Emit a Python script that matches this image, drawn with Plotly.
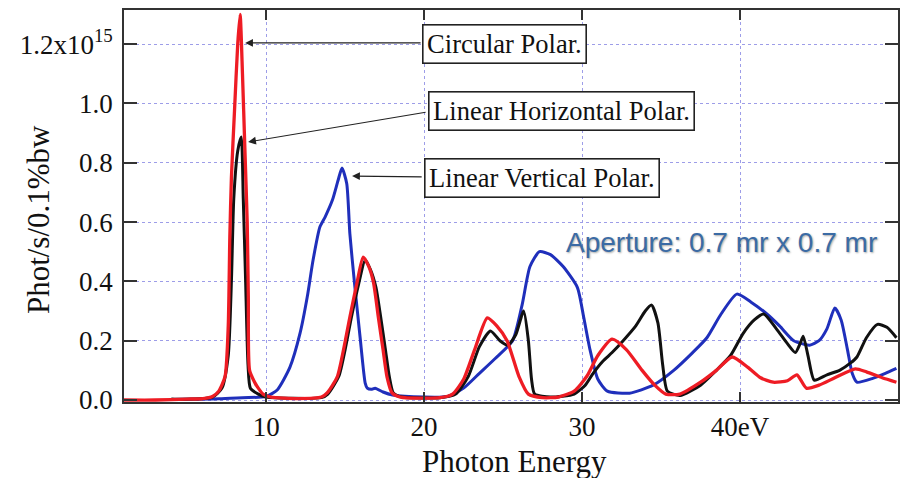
import plotly.graph_objects as go

# ---------------- data (photon energy in eV, flux in 1e15 phot/s/0.1%bw) ----------------
red_x = [1.0, 3.0, 5.0, 6.0, 6.6, 7.0, 7.4, 7.6, 7.7, 7.8, 8.0, 8.2, 8.35, 8.5, 8.65, 8.8, 8.87, 8.95,
         9.3, 9.5, 9.8, 10.3, 12.0, 13.5, 13.86, 14.5, 14.9, 15.3, 15.75, 16.14, 16.5, 16.8, 17.1,
         17.4, 17.65, 17.97, 18.5, 21.0, 21.8, 22.5, 23.2, 24.0, 24.6, 25.25, 26.0, 26.6, 27.5, 28.5,
         29.5, 30.3, 31.0, 31.9, 32.8, 33.8, 34.6, 35.3, 36.2, 37.5, 38.5, 39.5, 40.5, 41.3, 42.1,
         43.0, 43.6, 44.2, 45.0, 46.0, 47.3, 48.0, 49.0, 49.9]
red_y = [0.0, 0.0, 0.003, 0.005, 0.012, 0.03, 0.08, 0.25, 0.55, 0.75, 0.98, 1.20, 1.30, 1.10, 0.85,
         0.60, 0.35, 0.10, 0.057, 0.04, 0.02, 0.01, 0.005, 0.01, 0.024, 0.078, 0.17, 0.28, 0.395,
         0.482, 0.45, 0.395, 0.28, 0.17, 0.078, 0.024, 0.01, 0.008, 0.02, 0.07, 0.17, 0.277, 0.25,
         0.20, 0.08, 0.02, 0.008, 0.01, 0.03, 0.08, 0.15, 0.205, 0.17, 0.10, 0.05, 0.02, 0.02, 0.06,
         0.10, 0.145, 0.11, 0.075, 0.06, 0.065, 0.085, 0.04, 0.05, 0.075, 0.105, 0.095, 0.075, 0.06]

black_x = [4.0, 6.6, 7.2, 7.6, 7.8, 7.95, 8.2, 8.42, 8.55, 8.7, 8.85, 9.0, 9.5, 10.0, 13.5, 13.9,
           14.6, 15.0, 15.4, 15.85, 16.27, 16.6, 16.95, 17.25, 17.55, 17.8, 18.05, 18.6, 21.0, 22.0,
           22.8, 23.5, 24.2, 24.8, 25.3, 25.8, 26.3, 26.6, 26.8, 27.0, 28.0, 29.5, 30.2, 30.7, 31.3,
           31.9, 32.6, 33.4, 34.0, 34.4, 34.8, 35.1, 35.4, 36.2, 37.5, 38.5, 39.4, 40.2, 40.9, 41.5,
           42.3, 43.0, 43.5, 43.8, 44.0, 44.3, 44.7, 45.5, 46.3, 47.0, 47.4, 48.0, 48.7, 49.3, 49.9]
black_y = [0.003, 0.01, 0.04, 0.15, 0.40, 0.68, 0.84, 0.887, 0.68, 0.40, 0.12, 0.04, 0.02, 0.01,
           0.008, 0.02, 0.08, 0.17, 0.28, 0.39, 0.472, 0.44, 0.38, 0.28, 0.17, 0.078, 0.024, 0.01,
           0.008, 0.02, 0.08, 0.18, 0.233, 0.20, 0.185, 0.22, 0.30, 0.20, 0.07, 0.02, 0.01, 0.02,
           0.05, 0.09, 0.13, 0.16, 0.20, 0.25, 0.30, 0.32, 0.26, 0.12, 0.03, 0.015, 0.05, 0.10, 0.15,
           0.225, 0.27, 0.29, 0.24, 0.19, 0.16, 0.19, 0.215, 0.15, 0.067, 0.085, 0.10, 0.125, 0.145,
           0.21, 0.255, 0.245, 0.21]

blue_x = [4.0, 7.0, 8.5, 10.0, 10.7, 11.5, 12.15, 12.6, 12.97, 13.4, 13.73, 14.2, 14.55, 14.8, 15.1,
          15.3, 15.6, 15.95, 16.27, 16.4, 16.65, 16.9, 17.4, 18.0, 20.0, 21.5, 22.5, 23.5, 24.5,
          25.6, 26.2, 26.7, 27.3, 28.0, 28.8, 29.7, 30.1, 30.5, 31.0, 31.6, 33.0, 34.5, 35.8, 37.0,
          37.9, 38.8, 39.8, 40.7, 41.7, 42.5, 43.4, 44.4, 45.0, 45.5, 46.0, 46.4, 46.8, 47.1, 47.4,
          48.4, 49.2, 49.9]
blue_y = [0.002, 0.004, 0.008, 0.012, 0.034, 0.11, 0.226, 0.347, 0.472, 0.583, 0.617, 0.675, 0.74,
          0.782, 0.73, 0.56, 0.39, 0.21, 0.057, 0.04, 0.036, 0.04, 0.027, 0.017, 0.01, 0.012, 0.04,
          0.09, 0.14, 0.20, 0.32, 0.45, 0.50, 0.49, 0.45, 0.38, 0.28, 0.17, 0.07, 0.03, 0.023, 0.05,
          0.10, 0.16, 0.21, 0.29, 0.357, 0.33, 0.29, 0.25, 0.20, 0.185, 0.20, 0.24, 0.31, 0.27, 0.17,
          0.09, 0.06, 0.073, 0.09, 0.107]

x_tickvals = [10, 20, 30, 40]
x_ticktext = ["10", "20", "30", "40eV"]
y_tickvals = [0.0, 0.2, 0.4, 0.6, 0.8, 1.0, 1.2]
y_ticktext = ["0.0", "0.2", "0.4", "0.6", "0.8", "1.0", "1.2x10<sup>15</sup>"]

labels = ["Circular Polar.", "Linear Horizontal Polar.", "Linear Vertical Polar."]
label_pos = [(25.09, 1.202), (28.67, 0.973), (27.47, 0.750)]
arrow_head = [(8.67, 1.204), (8.86, 0.870), (15.44, 0.755)]
arrow_tail = [(19.87, 1.204), (20.19, 0.971), (19.94, 0.752)]
aperture_text = "Aperture: 0.7 mr x 0.7 mr"

SERIF = "Liberation Serif, Times New Roman, serif"

fig = go.Figure()
fig.add_trace(go.Scatter(x=blue_x, y=blue_y, mode="lines",
                         line=dict(color="#1f2fbb", width=3, shape="spline", smoothing=0.6)))
fig.add_trace(go.Scatter(x=black_x, y=black_y, mode="lines",
                         line=dict(color="#111111", width=3, shape="spline", smoothing=0.6)))
fig.add_trace(go.Scatter(x=red_x, y=red_y, mode="lines",
                         line=dict(color="#ee1c24", width=3.3, shape="spline", smoothing=0.6)))

annotations = []
for txt, (tx, ty), (hx, hy), (ax, ay) in zip(labels, label_pos, arrow_head, arrow_tail):
    annotations.append(dict(x=hx, y=hy, ax=ax, ay=ay, xref="x", yref="y", axref="x", ayref="y",
                            text="", showarrow=True, arrowhead=2, arrowsize=1.3, arrowwidth=1.2,
                            arrowcolor="#222222"))
    annotations.append(dict(x=tx, y=ty, xref="x", yref="y", text=txt, showarrow=False,
                            font=dict(family=SERIF, size=26.5, color="#111111"),
                            bgcolor="white", bordercolor="#222222", borderwidth=1.6, borderpad=3.5))

annotations.append(dict(x=38.8, y=0.53, xref="x", yref="y", text=aperture_text, showarrow=False,
                        font=dict(family="Liberation Sans, Arial, sans-serif",
                                  size=28, color="#3b6ba5",
                                  shadow="1px 1px 2px rgba(0,0,0,0.35)")))
annotations.append(dict(x=0.505, y=0, xref="paper", yref="paper", yshift=-59, yanchor="middle",
                        text="Photon Energy", showarrow=False,
                        font=dict(family=SERIF, size=31, color="#111111")))
annotations.append(dict(x=0, y=0.464, xref="paper", yref="paper", xshift=-86, xanchor="center",
                        yanchor="middle", textangle=-90, text="Phot/s/0.1%bw", showarrow=False,
                        font=dict(family=SERIF, size=31, color="#111111")))

fig.update_layout(
    width=905, height=478,
    margin=dict(l=124, r=5, t=10, b=76),
    paper_bgcolor="white", plot_bgcolor="white",
    showlegend=False,
    annotations=annotations,
    xaxis=dict(range=[1, 50], tickvals=x_tickvals, ticktext=x_ticktext,
               ticks="inside", ticklen=10, tickwidth=1.5, tickcolor="#333333",
               showline=True, linecolor="#333333", linewidth=1.6, mirror="ticks",
               showgrid=True, gridcolor="#9d9de8", griddash="dot", gridwidth=1,
               zeroline=False, ticklabelstandoff=0,
               tickfont=dict(family=SERIF, size=27, color="#111111")),
    yaxis=dict(range=[-0.0067, 1.315], tickvals=y_tickvals, ticktext=y_ticktext,
               ticks="inside", ticklen=13, tickwidth=1.5, tickcolor="#333333",
               showline=True, linecolor="#333333", linewidth=1.6, mirror="ticks",
               showgrid=True, gridcolor="#9d9de8", griddash="dot", gridwidth=1,
               zeroline=False, ticklabelstandoff=4,
               tickfont=dict(family=SERIF, size=27, color="#111111")),
)

fig.write_html("out.html")
